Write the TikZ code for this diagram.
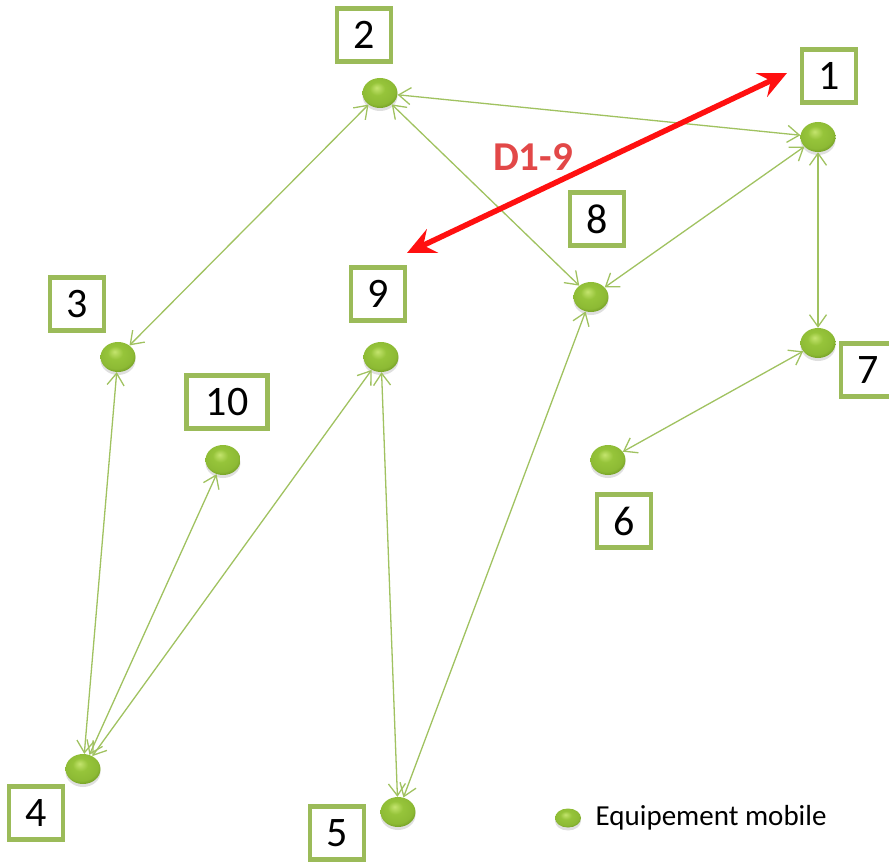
\documentclass[tikz,border=0pt]{standalone}
\usepackage{fontspec}
\setmainfont{Carlito}
\usetikzlibrary{arrows.meta,positioning,shapes.geometric,shadows}

\definecolor{leaflight}{RGB}{196,228,110}
\definecolor{leafgreen}{RGB}{150,196,58}
\definecolor{leafdark}{RGB}{104,146,30}
\definecolor{framegreen}{RGB}{155,187,89}
\definecolor{linkgreen}{RGB}{160,194,96}
\definecolor{alertred}{RGB}{255,16,16}
\definecolor{tagred}{RGB}{226,72,72}

% shiny green pebble for the units
\pgfdeclareradialshading{leafball}{\pgfpoint{-5bp}{9bp}}{%
  color(0bp)=(leaflight); color(11bp)=(leafgreen); color(24bp)=(leafgreen!80!leafdark);
  color(32bp)=(leafdark); color(50bp)=(leafdark)}

\begin{document}
\begin{tikzpicture}[x=1pt,y=-1pt,<->,>={Straight Barb[length=12pt,width=17pt]},
  main node/.style={ellipse,minimum width=35pt,minimum height=30pt,inner sep=0pt,
    shading=leafball,
    drop shadow={shadow xshift=0pt,shadow yshift=-3pt,opacity=.25}},
  tag/.style={draw=framegreen,line width=4.5pt,fill=white,minimum width=54pt,
    minimum height=53pt,inner sep=0pt,font=\fontsize{42}{46}\selectfont},
  link/.style={draw=linkgreen,line width=1.3pt}]

  \useasboundingbox (0,0) rectangle (889,864);

  % mobile units
  \node[main node] (1) at (818,137) {};
  \node[main node] (2) at (380,93) {};
  \node[main node] (3) at (118,357) {};
  \node[main node] (4) at (83,769) {};
  \node[main node] (5) at (398,812) {};
  \node[main node] (6) at (608,460) {};
  \node[main node] (7) at (818,343) {};
  \node[main node] (8) at (591,297) {};
  \node[main node] (9) at (381,357) {};
  \node[main node] (10) at (223,460) {};

  % number tags
  \node[tag] (1t) at (829,76) {1};
  \node[tag] (2t) at (364,35) {2};
  \node[tag] (3t) at (77,304) {3};
  \node[tag] (4t) at (36,813) {4};
  \node[tag] (5t) at (337,833) {5};
  \node[tag] (6t) at (624,521) {6};
  \node[tag] (7t) at (868,370) {7};
  \node[tag] (8t) at (597,219) {8};
  \node[tag] (9t) at (378,294) {9};
  \node[tag,minimum width=81pt] (10t) at (227,402) {10};

  \path[link]
    (2) edge (1)
        edge (3)
        edge (8)
    (1) edge (8)
        edge (7)
    (7) edge (6)
    (3) edge (4)
    (10) edge (4)
    (9) edge (4)
        edge (5)
    (8) edge (5);

  % distance 1-9
  \coordinate (d1) at (787,73);
  \coordinate (d9) at (407,253);
  \draw[alertred,line width=5.5pt,
    {Stealth[length=28pt,width=26pt,inset=10pt]}-{Stealth[length=28pt,width=26pt,inset=10pt]}]
    (d9) -- (d1);
  \node[text=tagred,font=\bfseries\fontsize{41}{44}\selectfont] (d19) at (533,157) {D1-9};

  % legend
  \node[main node,minimum width=26pt,minimum height=19pt] (leg) at (568,818) {};
  \node[right=11pt of leg,font=\fontsize{29}{32}\selectfont] (legt) {Equipement mobile};
\end{tikzpicture}
\end{document}
